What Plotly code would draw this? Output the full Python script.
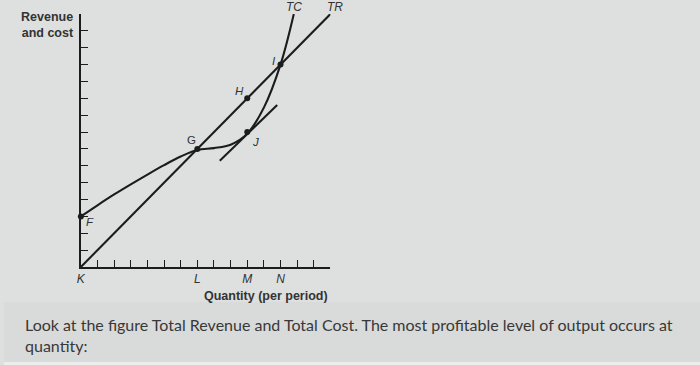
import plotly.graph_objects as go

# ---- data (quantity units = tick steps) ----
tr_q = [0, 15]
tr_v = [0, 15]

tc_q = [0, 1, 2, 3, 4, 5, 6, 7, 8, 9, 10, 11, 12, 12.8]
tc_v = [3, 3.66, 4.3, 4.9, 5.48, 6.04, 6.55, 6.94, 7.05, 7.25, 7.9, 9.45, 12.0, 15.0]

tan_q = [8.35, 11.8]
tan_v = [6.3, 9.6]

pt_names = ["F", "G", "H", "I", "J"]
pt_q = [0, 7, 10, 12, 10]
pt_v = [3, 7, 10, 12, 8]
pt_dx = [9, -6, -8, -7, 8]
pt_dy = [-6, 9, 7, 4, -10]
pt_italic = [True, False, True, True, True]

tick_vals = list(range(16))
x_tick_names = {0: "K", 7: "L", 10: "M", 12: "N"}

curve_names = ["TC", "TR"]
curve_label_q = [12.8, 15]
curve_label_dx = [0, 5]

y_title = ["Revenue", "and cost"]
x_title = "Quantity (per period)"
question = ["Look at the figure Total Revenue and Total Cost. The most profitable level of output occurs at",
            "quantity:"]

W, H = 700, 365
ink = "#1c1c1c"
txt = "#333333"

fig = go.Figure()
fig.add_trace(go.Scatter(x=tr_q, y=tr_v, mode="lines", line=dict(color=ink, width=2.1), hoverinfo="skip"))
fig.add_trace(go.Scatter(x=tc_q, y=tc_v, mode="lines", line=dict(color=ink, width=2.1, shape="spline", smoothing=1.0), hoverinfo="skip"))
fig.add_trace(go.Scatter(x=tan_q, y=tan_v, mode="lines", line=dict(color=ink, width=2.1), hoverinfo="skip"))
fig.add_trace(go.Scatter(x=pt_q, y=pt_v, mode="markers", marker=dict(color=ink, size=6), cliponaxis=False, hoverinfo="skip"))

ann = []
for n, q, v, dx, dy, it in zip(pt_names, pt_q, pt_v, pt_dx, pt_dy, pt_italic):
    ann.append(dict(x=q, y=v, xref="x", yref="y", text=f"<i>{n}</i>" if it else n,
                    showarrow=False, xshift=dx, yshift=dy,
                    font=dict(family="Liberation Sans, Arial", size=11.5, color=txt)))
for n, q, dx in zip(curve_names, curve_label_q, curve_label_dx):
    ann.append(dict(x=q, y=15, xref="x", yref="y", text=f"<i>{n}</i>", showarrow=False,
                    xshift=dx, yshift=7, font=dict(family="Liberation Sans, Arial", size=12, color=txt)))
ann.append(dict(x=72 / W, y=(H - 25) / H, xref="paper", yref="paper", xanchor="right", yanchor="middle",
                align="right", showarrow=False, text="<b>" + "<br>".join(y_title) + "</b>",
                font=dict(family="Liberation Sans, Arial", size=12.5, color=txt)))
ann.append(dict(x=15, y=0, xref="x", yref="y", xanchor="right", yanchor="middle", showarrow=False,
                yshift=-29, text=f"<b>{x_title}</b>",
                font=dict(family="Liberation Sans, Arial", size=12.5, color=txt)))
ann.append(dict(x=19 / W, y=(H - 335) / H, xref="paper", yref="paper", xanchor="left",
                yanchor="middle", align="left", showarrow=False, text="<br>".join(question),
                font=dict(family="Lato", size=16, color="#383838")))

fig.update_layout(
    width=W, height=H, margin=dict(l=0, r=0, t=0, b=0),
    paper_bgcolor="#dde0de", plot_bgcolor="rgba(0,0,0,0)", showlegend=False,
    annotations=ann,
    shapes=[dict(type="rect", xref="paper", yref="paper", x0=0, x1=1, y0=3 / H, y1=(H - 302) / H,
                 fillcolor="#d8dbd9", line=dict(width=0), layer="below"),
            dict(type="rect", xref="paper", yref="paper", x0=0, x1=1, y0=0, y1=3 / H,
                 fillcolor="#eceeed", line=dict(width=0), layer="below")],
    xaxis=dict(domain=[77.3 / W, 328.3 / W], range=[0, 15], showgrid=False, zeroline=False,
               showline=True, linecolor=ink, linewidth=1.6,
               ticks="inside", ticklen=7, tickwidth=1.3, tickcolor=ink,
               tickmode="array", tickvals=tick_vals,
               ticktext=[f"<i>{x_tick_names[t]}</i>" if t in x_tick_names else "" for t in tick_vals],
               tickfont=dict(family="Liberation Sans, Arial", size=12, color=txt), fixedrange=True),
    yaxis=dict(domain=[(H - 267) / H, (H - 14) / H], range=[0, 15], showgrid=False, zeroline=False,
               showline=True, linecolor=ink, linewidth=1.6,
               ticks="inside", ticklen=7, tickwidth=1.3, tickcolor=ink,
               tickmode="array", tickvals=tick_vals, showticklabels=False, fixedrange=True),
)

fig.write_html("out.html")
